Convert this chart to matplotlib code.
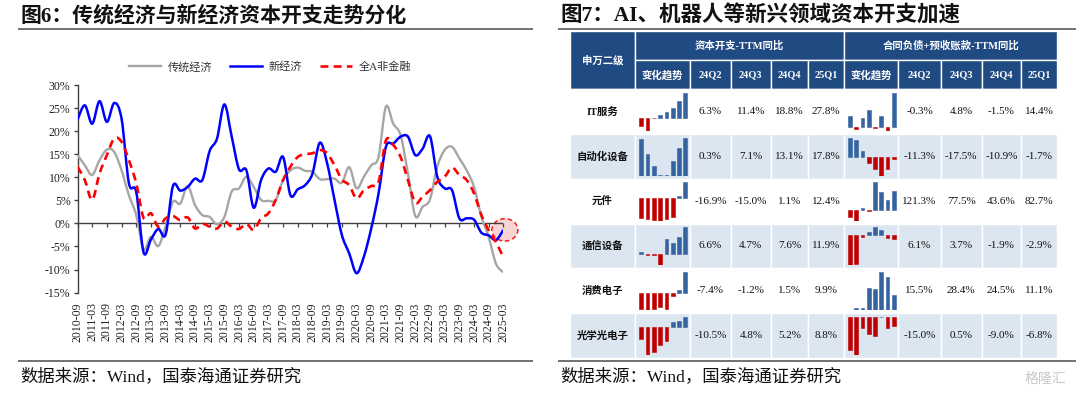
import numpy as np
import matplotlib
matplotlib.use('Agg')
import matplotlib.pyplot as plt
from matplotlib.path import Path
from matplotlib.patches import PathPatch, Rectangle, Ellipse
from matplotlib.lines import Line2D
from matplotlib.font_manager import FontProperties

W, H = 1080, 397
CJK = 'Noto Sans CJK SC'
SERIF = 'Liberation Serif'
MIX = [SERIF, CJK]
plt.rcParams['font.family'] = MIX

# ---------------- data: left chart ----------------
quarter_labels = ['2010-09', '2011-03', '2011-09', '2012-03', '2012-09', '2013-03',
                  '2013-09', '2014-03', '2014-09', '2015-03', '2015-09', '2016-03',
                  '2016-09', '2017-03', '2017-09', '2018-03', '2018-09', '2019-03',
                  '2019-09', '2020-03', '2020-09', '2021-03', '2021-09', '2022-03',
                  '2022-09', '2023-03', '2023-09', '2024-03', '2024-09', '2025-03']
series_names = ['传统经济', '新经济', '全A非金融']
trad_econ = [14.8, 12.6, 10.5, 13.7, 16.0, 15.5, 11.5, 6.1, 1.8, -5.6,
             -2.9, -4.9, -0.7, 4.7, 4.3, 8.1, 4.0, 1.8, 1.4, -0.2,
             1.4, 6.9, 7.6, 10.1, 7.9, 5.1, 4.9, 5.1, 9.4, 11.5,
             12.1, 11.4, 11.2, 9.6, 9.6, 9.7, 8.8, 12.2, 7.6, 10.1,
             12.6, 14.4, 25.3, 21.6, 19.1, 10.8, 1.6, 3.6, 5.2, 12.3,
             15.9, 16.6, 14.1, 11.5, 7.9, 1.5, -3.0, -8.8, -10.6]
new_econ = [22.5, 25.6, 21.6, 26.5, 22.0, 26.1, 22.7, 8.7, 6.8, -6.3,
            -3.5, -1.2, -2.4, 8.1, 7.1, 7.9, 9.7, 9.4, 15.7, 18.4,
            25.8, 18.8, 11.7, 11.5, 3.4, 9.4, 11.9, 11.2, 14.4, 6.1,
            7.4, 8.3, 10.8, 17.5, 13.0, 5.1, -2.5, -6.5, -10.8, -7.2,
            -1.1, 6.5, 16.6, 17.3, 18.8, 18.8, 14.8, 16.2, 18.9, 10.1,
            7.6, 7.2, 1.1, 1.1, 0.8, -2.0, -2.6, -3.6, -1.4]
all_a = [12.3, 9.4, 5.1, 10.8, 14.8, 18.4, 17.7, 13.7, 8.7, 1.2,
         2.2, -0.7, 1.1, 1.6, 0.7, 1.3, -1.1, -0.1, -0.7, -1.1,
         0.4, -0.7, -1.2, -0.1, -1.4, 1.1, 2.2, 5.1, 9.4, 12.3,
         14.4, 15.0, 15.2, 15.9, 15.2, 12.6, 9.5, 8.3, 5.4, 7.2,
         8.1, 9.0, 18.0, 17.0, 14.4, 9.4, 4.5, 5.8, 7.2, 9.0,
         10.1, 12.1, 10.5, 9.4, 6.5, 1.8, -1.5, -4.1, -7.4]

# ---------------- data: right table ----------------
industries = ['IT服务', '自动化设备', '元件', '通信设备', '消费电子', '光学光电子']
quarters = ['24Q2', '24Q3', '24Q4', '25Q1']
group_titles = ['资本开支-TTM同比', '合同负债+预收账款-TTM同比']
capex_ttm = [[6.3, 11.4, 18.8, 27.8],
             [0.3, 7.1, 13.1, 17.8],
             [-16.9, -15.0, 1.1, 12.4],
             [6.6, 4.7, 7.6, 11.9],
             [-7.4, -1.2, 1.5, 9.9],
             [-10.5, 4.8, 5.2, 8.8]]
contract_ttm = [[-0.3, 4.8, -1.5, 14.4],
                [-11.3, -17.5, -10.9, -1.7],
                [121.3, 77.5, 43.6, 82.7],
                [6.1, 3.7, -1.9, -2.9],
                [15.5, 28.4, 24.5, 11.1],
                [-15.0, 0.5, -9.0, -6.8]]
capex_trend = [[-9.2, -14.8, -0.4, 3.0, 6.3, 11.4, 18.8, 27.8],
               [17.0, 10.0, 4.6, 0.4, 0.3, 7.1, 13.1, 17.8],
               [-15.8, -17.2, -17.5, -18.2, -16.9, -15.0, 1.1, 12.4],
               [0.8, -0.6, -0.3, -5.0, 6.6, 4.7, 7.6, 11.9],
               [-7.0, -7.7, -7.0, -6.2, -7.4, -1.2, 1.5, 9.9],
               [-9.3, -22.0, -19.5, -14.0, -10.5, 4.8, 5.2, 8.8]]
contract_trend = [[4.9, -0.8, 3.9, 7.2, -0.3, 4.8, -1.5, 14.4],
                  [18.4, 16.2, 6.1, -5.2, -11.3, -17.5, -10.9, -1.7],
                  [-31.0, -45.0, 11.0, -2.0, 121.3, 77.5, 43.6, 82.7],
                  [-22.0, -20.7, -1.0, 2.4, 6.1, 3.7, -1.9, -2.9],
                  [0.3, 1.2, 1.8, 16.3, 15.5, 28.4, 24.5, 11.1],
                  [-26.0, -30.0, -8.7, -13.8, -15.0, 0.5, -9.0, -6.8]]

# ---------------- styles ----------------
GRAY = '#A6A6A6'
BLUE = '#0000FF'
RED = '#FF0000'
AX_C = '#404040'
HEAD_BLUE = '#1F4A82'
LIGHT_ROW = '#DCE6F1'
BAR_POS = '#3563A0'
BAR_NEG = '#C00000'
RULE_C = '#595959'


def fx(x):
    return x / W


def fy(y):
    return 1 - y / H


def smooth_path(xs, ys):
    P = np.column_stack([xs, ys]).astype(float)
    n = len(P)
    verts = [P[0]]
    codes = [Path.MOVETO]
    for i in range(n - 1):
        p0 = P[i - 1] if i > 0 else P[i]
        p1 = P[i]
        p2 = P[i + 1]
        p3 = P[i + 2] if i + 2 < n else P[i + 1]
        verts += [p1 + (p2 - p0) / 6.0, p2 - (p3 - p1) / 6.0, p2]
        codes += [Path.CURVE4] * 3
    return Path(verts, codes)


fig = plt.figure(figsize=(W / 100, H / 100), dpi=100)

# ---------------- left chart ----------------
ax_l, ax_r, ax_t, ax_b = 77.5, 503.4, 85.0, 292.6
ax = fig.add_axes([fx(ax_l), fy(ax_b), (ax_r - ax_l) / W, (ax_b - ax_t) / H])
xs = np.arange(len(trad_econ))
ax.set_xlim(xs[0], xs[-1])
ax.set_ylim(-15, 30)

styles = [(trad_econ, GRAY, '-', 1.7), (new_econ, BLUE, '-', 1.8), (all_a, RED, (0, (3, 2)), 1.9)]
handles = []
for (ys, col, ls, lw), name in zip(styles, series_names):
    patch = PathPatch(smooth_path(xs, ys), fill=False, edgecolor=col, lw=lw,
                      linestyle=ls, zorder=3, joinstyle='round', capstyle='butt')
    ax.add_patch(patch)
    handles.append(Line2D([], [], color=col, lw=lw, linestyle=ls))

# highlight ellipse around latest point
px_x = (xs[-1] - xs[0]) / (ax_r - ax_l)
px_y = 45.0 / (ax_b - ax_t)
ell = Ellipse((xs[-1] + 0.2, new_econ[-1]), 26 * px_x, 22.4 * px_y, facecolor='#F8D0D0',
              edgecolor=RED, lw=1.1, linestyle=(0, (3, 2)), alpha=0.9, zorder=2, clip_on=False)
ax.add_patch(ell)

for s in ['top', 'right', 'bottom']:
    ax.spines[s].set_visible(False)
ax.spines['left'].set_color(AX_C)
ax.spines['left'].set_linewidth(1.0)
yt = np.arange(-15, 31, 5)
ax.set_yticks(yt, [f'{v}%' for v in yt])
ax.tick_params(axis='y', direction='out', length=3, width=1, color=AX_C, labelsize=8.5,
               labelcolor='#222222', pad=2)
for lab in ax.get_yticklabels():
    lab.set_fontfamily(SERIF)
tick_pos = xs[::2]
ax.set_xticks(tick_pos, quarter_labels, rotation=90)
ax.tick_params(axis='x', length=0, labelsize=8.5, labelcolor='#222222', pad=7)
for lab in ax.get_xticklabels():
    lab.set_fontfamily(SERIF)
ax.axhline(0, color=AX_C, lw=1.0, zorder=2)
ax.plot(tick_pos, np.zeros(len(tick_pos)), ls='none', marker=3, ms=3, mew=0.9,
        color=AX_C, clip_on=False, zorder=2)
ax.patch.set_alpha(0)

fig.legend(handles, series_names, loc='center', bbox_to_anchor=(fx(270), fy(67)),
           ncol=3, frameon=False, prop=FontProperties(family=MIX, size=8),
           handlelength=2.9, handletextpad=0.6, columnspacing=1.6, labelcolor='#333333')

# ---------------- overlay for titles, rules and table ----------------
tab = fig.add_axes([0, 0, 1, 1])
tab.set_xlim(0, W)
tab.set_ylim(H, 0)
tab.axis('off')

tab.text(20, 16, '图6：传统经济与新经济资本开支走势分化', fontsize=15, fontweight='bold',
         family=MIX, ha='left', va='center', color='#111111')
tab.text(560, 16, '图7：AI、机器人等新兴领域资本开支加速', fontsize=15.5, fontweight='bold',
         family=MIX, ha='left', va='center', color='#111111')
for x0, x1 in [(18, 533), (558, 1076)]:
    tab.plot([x0, x1], [29, 29], color=RULE_C, lw=1.2, solid_capstyle='butt')
    tab.plot([x0, x1], [361, 361], color=RULE_C, lw=1.2, solid_capstyle='butt')
for x0 in [20, 560]:
    tab.text(x0, 376.5, '数据来源：Wind，国泰海通证券研究', fontsize=12.5, family=MIX,
             ha='left', va='center', color='#111111')
tab.text(1045, 379, '格隆汇', fontsize=10, family=CJK, ha='center', va='center', color='#C8C8C8')

# table geometry
col_edges = [570, 635, 690, 730.7, 771, 808.3, 844, 898.3, 940.7, 981.7, 1021, 1057.3]
head_top, head_mid, head_bot = 30.7, 60.0, 89.3
row_h = 44.75
cell_ec = 'white'

def cell(x0, x1, y0, y1, fc):
    tab.add_patch(Rectangle((x0, y0), x1 - x0, y1 - y0, facecolor=fc, edgecolor=cell_ec, lw=1.0))

# header
cell(col_edges[0], col_edges[1], head_top, head_bot, HEAD_BLUE)
tab.text((col_edges[0] + col_edges[1]) / 2, (head_top + head_bot) / 2, '申万二级', color='white',
         fontsize=7.5, fontweight='bold', family=CJK, ha='center', va='center')
groups = [(1, 6), (6, 11)]
for (a, b), title in zip(groups, group_titles):
    cell(col_edges[a], col_edges[b], head_top, head_mid, HEAD_BLUE)
    tab.text((col_edges[a] + col_edges[b]) / 2, (head_top + head_mid) / 2, title, color='white',
             fontsize=7.5, fontweight='bold', family=MIX, ha='center', va='center')
    labels = ['变化趋势'] + quarters
    for k, c in enumerate(range(a, b)):
        cell(col_edges[c], col_edges[c + 1], head_mid, head_bot, HEAD_BLUE)
        tab.text((col_edges[c] + col_edges[c + 1]) / 2, (head_mid + head_bot) / 2 + 0.5, labels[k],
                 color='white', fontsize=7.5, fontweight='bold', family=MIX,
                 ha='center', va='center')

# body
for r, name in enumerate(industries):
    y0 = head_bot + r * row_h
    y1 = y0 + row_h
    fc = 'white' if r % 2 == 0 else LIGHT_ROW
    for c in range(len(col_edges) - 1):
        cell(col_edges[c], col_edges[c + 1], y0, y1, fc)
    ym = (y0 + y1) / 2
    tab.text((col_edges[0] + col_edges[1]) / 2, ym, name, fontsize=7.5, fontweight='bold',
             family=MIX, ha='center', va='center', color='#111111')
    for (a, b), vals, trend in [((1, 6), capex_ttm[r], capex_trend[r]),
                                ((6, 11), contract_ttm[r], contract_trend[r])]:
        for k, v in enumerate(vals):
            c = a + 1 + k
            tab.text((col_edges[c] + col_edges[c + 1]) / 2, ym, f'{v:.1f}%', fontsize=8,
                     family=SERIF, ha='center', va='center', color='#111111')
        # sparkline
        left = col_edges[a] + 3
        right = col_edges[a + 1] - 1.5
        top = y0 + 3.5
        bot = y1 - 3
        sp = fig.add_axes([fx(left), fy(bot), (right - left) / W, (bot - top) / H])
        tv = np.array(trend)
        cols = [BAR_POS if v >= 0 else BAR_NEG for v in tv]
        sp.bar(np.arange(len(tv)), tv, width=0.6, color=cols, edgecolor=cols, lw=0.4)
        sp.set_xlim(-0.5, len(tv) - 0.5)
        sp.set_ylim(min(0, tv.min()), max(0, tv.max()))
        sp.axis('off')

fig.savefig('out.png', dpi=100)
